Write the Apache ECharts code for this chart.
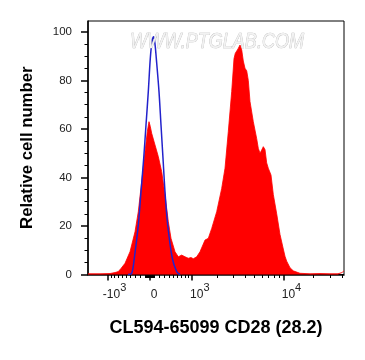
<!DOCTYPE html>
<html><head><meta charset="utf-8">
<script src="https://cdn.jsdelivr.net/npm/echarts@6/dist/echarts.min.js"></script>
<style>html,body{margin:0;padding:0;background:#fff}#c{width:365px;height:360px}</style>
</head><body><div id="c"></div>
<script>
// x values are display channels (0-256) of a biexponential fluorescence scale
const redX = [0,12,22,27,30.3,33,37,42,47,50.3,53.7,57,59.3,61,62.3,63.7,67,70.3,73.7,77,80.3,83,87,90.3,93.7,97,100.3,103,105.3,108.7,112,117,120.3,123.7,128.7,133.7,137,140.3,143.7,146,147.3,148.7,150,152,153.7,155.3,157,158.7,160.3,162,165.3,168.7,170.3,172,173.7,175.3,177,178.7,180.3,183,185.3,188.7,192,195.3,197,198.7,202,205.3,212,222,232,242,250,254,256];
const redY = [0.3,0.3,0.4,0.8,1.2,2.5,4.6,9.4,17.6,25.9,38.3,50.6,58.9,63,61,58.2,53.4,48.6,42.4,32.8,21.8,14.9,9.4,7.3,8.0,7.3,6.7,7.0,6.5,7.3,9.4,14.2,14.9,19,25.9,35.5,43.8,58.9,75.4,89,91.2,91.9,93,94.6,92.6,88,85,84,80,71.3,63,56,52,50,51.3,52.7,51.5,46,43.8,41,33,25,16.5,10.5,7.5,5.5,2.8,1.5,0.5,0.3,0.4,0.3,0.3,0.8,1.5];
const blueX = [40,43.7,46.3,50.3,53,55.7,58,60.3,62.3,64,65.7,67,68.3,71,73,75,77,79.7,84.3,88.7,92];
const blueY = [0,0.5,6.7,20.4,34.1,47.9,61.6,75.4,89.1,96,98,95,89.1,75.4,61.6,47.9,34.1,20.4,6.7,1.2,0];
const xMajorValues = [-1000, 0, 1000, 10000];
const xMajorLabels = ['{g14| }{b|-10}{s|3}', '{g9| }{b|0}', '{g16| }{b|10}{s|3}', '{g16| }{b|10}{s|4}'];
const xMinorValues = [-900,-800,-700,-600,-500,-400,-300,-200,-100,-90,-80,-70,-60,-50,-40,-30,-20,-10,10,20,30,40,50,60,70,80,90,100,200,300,400,500,600,700,800,900,2000,3000,4000,5000,6000,7000,8000,9000,20000,30000,40000];
const yMajorTicks = [0,20,40,60,80,100];
const yMinorTicks = [5,10,15,25,30,35,45,50,55,65,70,75,85,90,95];

function toChannel(v){ return 61.7 + 42.5*Math.asinh(v/860); }
const xMajorCh = xMajorValues.map(toChannel);
const xMinorCh = xMinorValues.map(toChannel).filter(c => c >= 0 && c <= 256);

const chart = echarts.init(document.getElementById('c'), null, {renderer:'canvas'});
const F = '"Liberation Sans", Arial, sans-serif';
chart.setOption({
  animation:false,
  backgroundColor:'#fff',
  grid:{left:88, right:21, top:21, bottom:85.5, show:true, borderColor:'#000', borderWidth:1, backgroundColor:'transparent'},
  xAxis:[{
    type:'value', min:0, max:256, position:'bottom',
    name:'CL594-65099 CD28 (28.2)', nameLocation:'middle', nameGap:45,
    nameTextStyle:{fontFamily:F, fontWeight:'bold', fontSize:18, color:'#000'},
    axisLine:{show:true, lineStyle:{color:'#000', width:1.5}},
    axisTick:{show:true, customValues:xMajorCh, length:6, lineStyle:{color:'#000', width:1.5}},
    axisLabel:{show:true, customValues:xMajorCh, margin:8, fontFamily:F,
      formatter:function(v){ let best=0, d=1e9; xMajorCh.forEach((c,i)=>{ if(Math.abs(c-v)<d){d=Math.abs(c-v);best=i;} }); return xMajorLabels[best]; },
      rich:{
        b:{fontSize:12, fontFamily:F, color:'#222', lineHeight:18, verticalAlign:'bottom'},
        s:{fontSize:11, fontFamily:F, color:'#222', lineHeight:18, verticalAlign:'top'},
        g14:{width:14}, g16:{width:16}, g9:{width:9}
      }},
    splitLine:{show:false}
  },{
    type:'value', min:0, max:256, position:'bottom',
    axisLine:{show:false},
    axisTick:{show:true, customValues:xMinorCh, length:3.5, lineStyle:{color:'#000', width:1}},
    axisLabel:{show:false}, splitLine:{show:false}
  }],
  yAxis:[{
    type:'value', min:0, max:104.5, position:'left',
    name:'Relative cell number', nameLocation:'middle', nameGap:52,
    nameTextStyle:{fontFamily:F, fontWeight:'bold', fontSize:16.7, color:'#000'},
    axisLine:{show:true, lineStyle:{color:'#000', width:1.5}},
    axisTick:{show:true, customValues:yMajorTicks, length:7, lineStyle:{color:'#000', width:1.5}},
    axisLabel:{show:true, customValues:yMajorTicks, margin:16, fontFamily:F, fontSize:11.5, color:'#222'},
    splitLine:{show:false}
  },{
    type:'value', min:0, max:104.5, position:'left',
    axisLine:{show:false},
    axisTick:{show:true, customValues:yMinorTicks, length:3.5, lineStyle:{color:'#000', width:1}},
    axisLabel:{show:false}, splitLine:{show:false}
  }],
  graphic:[{
    type:'text', left:130, top:31, z:100, scaleX:0.82,
    style:{text:'WWW.PTGLAB.COM', font:'italic 22px "Liberation Sans"', fill:'#f2f2f2', stroke:'#b5b5b5', lineWidth:0.7}
  }],
  series:[{
    type:'line', xAxisIndex:0, yAxisIndex:0, symbol:'none',
    data: redX.map((x,i)=>[x, redY[i]]),
    lineStyle:{color:'#ff0000', width:0.8},
    areaStyle:{color:'#ff0000', opacity:1}
  },{
    type:'line', xAxisIndex:0, yAxisIndex:0, symbol:'none', smooth:0.3,
    data: blueX.map((x,i)=>[x, blueY[i]]),
    lineStyle:{color:'#2222cc', width:1.5}
  }]
});
</script></body></html>
